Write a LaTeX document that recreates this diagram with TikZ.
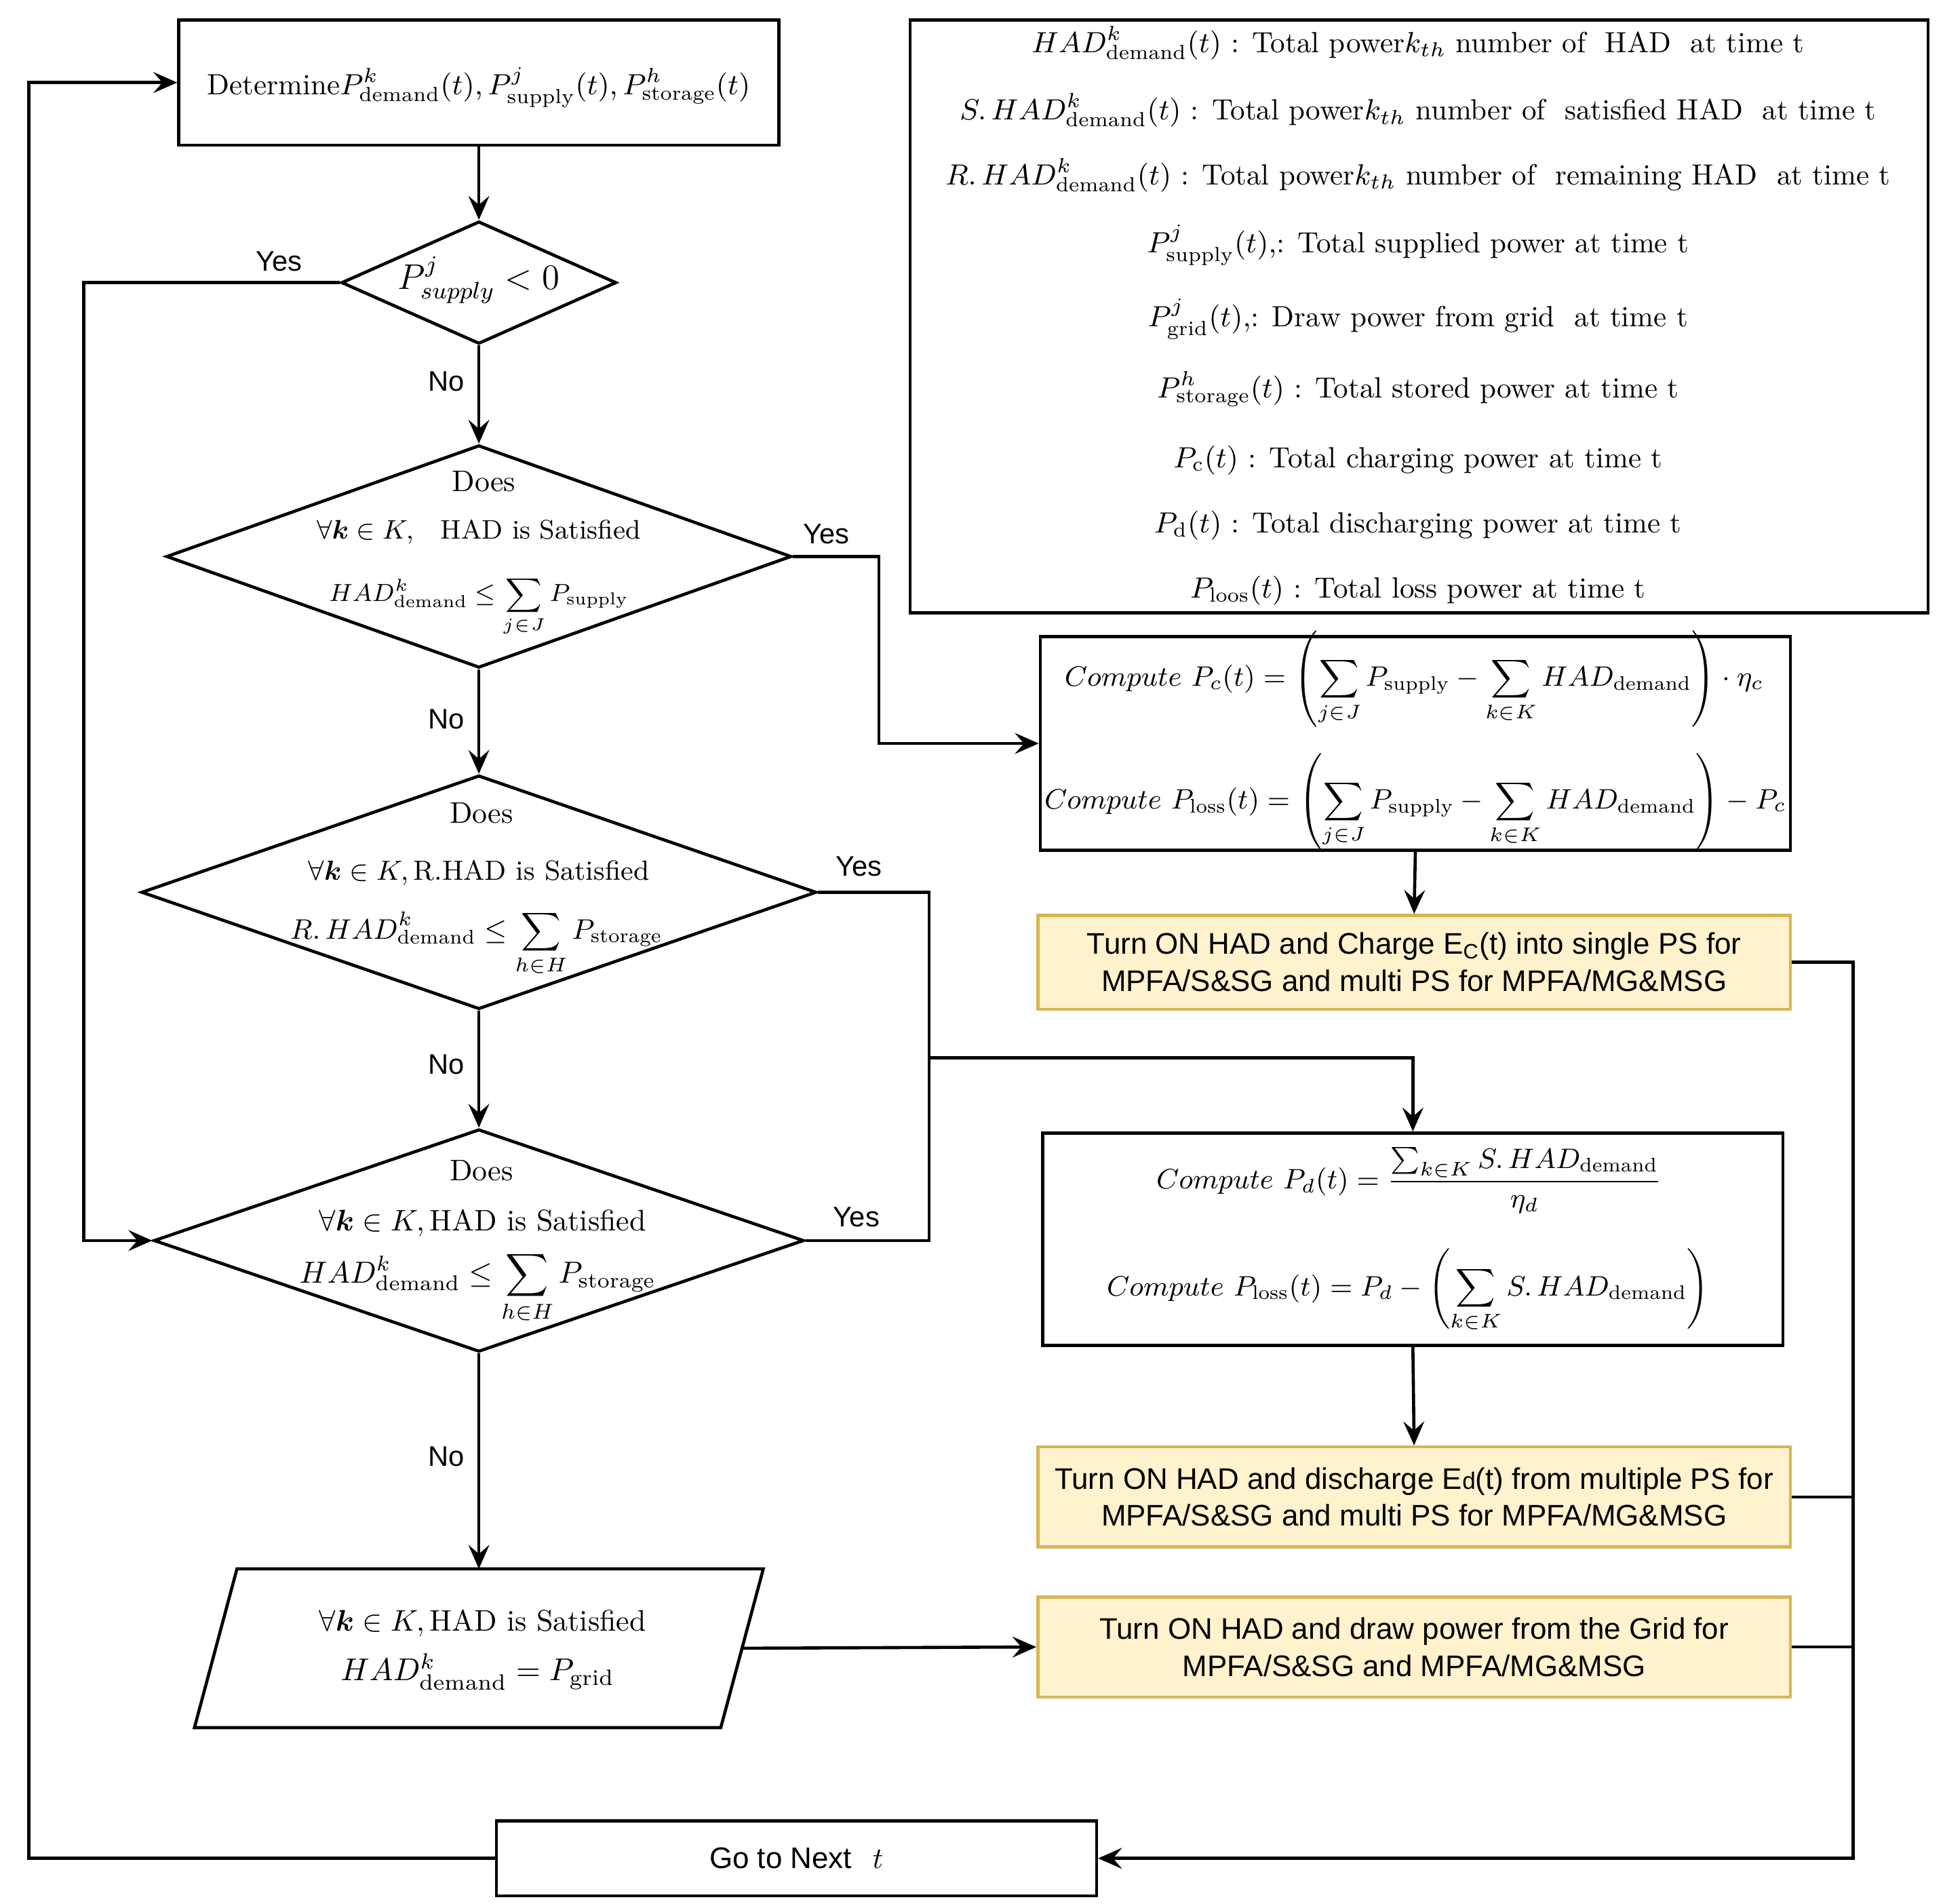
\RequirePackage{fix-cm}
\documentclass[tikz,border=0pt]{standalone}
\usepackage{amsmath}
\usepackage{fontspec}
\newfontfamily\drawiosans{Liberation Sans}
\usetikzlibrary{arrows.meta,shapes.geometric}
\definecolor{noteFill}{HTML}{FFF2CC}
\definecolor{noteLine}{HTML}{D6B656}

\begin{document}
\begin{tikzpicture}[x=0.42pt,y=0.42pt,yscale=-1,line width=1.05pt,
  flow/.style={-{Stealth[length=8pt,width=7pt,inset=3pt]}},
  procbox/.style={draw,rectangle,inner sep=0pt},
  notebox/.style={draw=noteLine,fill=noteFill,rectangle,inner sep=0pt,align=center,font=\drawiosans\fontsize{10}{12.5}\selectfont},
  decision/.style={draw,diamond,inner sep=0pt},
  yesno/.style={font=\drawiosans\fontsize{9.5}{11}\selectfont},
  formula/.style={font=\fontsize{9.45}{12}\selectfont}]
\useasboundingbox (0,0) rectangle (1554,1522);

%Shape: Rectangle
\node[procbox,minimum width=201.6pt,minimum height=42pt] (det) at (383,66) {};
% Text Node
\node[font=\fontsize{9.8}{12}\selectfont] (dettxt) at (383,70) {Determine$P^{k}_{\mathrm{demand}}(t),P^{j}_{\mathrm{supply}}(t),P^{h}_{\mathrm{storage}}(t)$};

%Shape: Diamond
\node[decision,minimum width=92.4pt,minimum height=41.16pt] (dec1) at (383,226) {};
% Text Node
\node (dec1txt) at (383,224) {\large $P^{j}_{supply}<0$};

%Shape: Diamond
\node[decision,minimum width=210pt,minimum height=74.76pt] (dec2) at (383,445) {};
% Text Node
\node[anchor=base] (dec2does) at (387,393) {Does};
% Text Node
\node[anchor=base,font=\fontsize{9}{11}\selectfont] (dec2all) at (383,431) {$\forall\boldsymbol{k}\in K,$\quad HAD is Satisfied};
% Text Node
\node[anchor=base,font=\fontsize{8.3}{10}\selectfont] (dec2sum) at (383,481) {$\displaystyle HAD^{k}_{\mathrm{demand}}\le\sum_{j\in J}P_{\mathrm{supply}}$};

%Shape: Diamond
\node[decision,minimum width=226.8pt,minimum height=78.54pt] (dec3) at (383,713.5) {};
% Text Node
\node[anchor=base] (dec3does) at (385,658) {Does};
% Text Node
\node[anchor=base,font=\fontsize{9.3}{11}\selectfont] (dec3all) at (383,704) {$\forall\boldsymbol{k}\in K,$\,R.HAD is Satisfied};
% Text Node
\node[anchor=base,font=\fontsize{9.5}{11}\selectfont] (dec3sum) at (381,751) {$\displaystyle R.\,HAD^{k}_{\mathrm{demand}}\le\sum_{h\in H}P_{\mathrm{storage}}$};

%Shape: Diamond
\node[decision,minimum width=218.4pt,minimum height=74.76pt] (dec4) at (383,992) {};
% Text Node
\node[anchor=base] (dec4does) at (385,944) {Does};
% Text Node
\node[anchor=base] (dec4all) at (386,984) {$\forall\boldsymbol{k}\in K,$\,HAD is Satisfied};
% Text Node
\node[anchor=base,font=\fontsize{10.25}{12.5}\selectfont] (dec4sum) at (382,1026) {$\displaystyle HAD^{k}_{\mathrm{demand}}\le\sum_{h\in H}P_{\mathrm{storage}}$};

%Shape: Parallelogram
\node[inner sep=0pt,outer sep=0pt,minimum width=176.8pt,minimum height=53.34pt] (gridnode) at (383,1318) {};
\draw ([xshift=7.14pt]gridnode.north west) -- ([xshift=7.14pt]gridnode.north east) -- ([xshift=-7.14pt]gridnode.south east) -- ([xshift=-7.14pt]gridnode.south west) -- cycle;
% Text Node
\node[anchor=base] (gridall) at (386,1304) {$\forall\boldsymbol{k}\in K,$\,HAD is Satisfied};
% Text Node
\node[anchor=base,font=\fontsize{10.6}{13}\selectfont] (gridsum) at (382,1344) {$HAD^{k}_{\mathrm{demand}}=P_{\mathrm{grid}}$};

%Shape: Rectangle
\node[procbox,minimum width=201.6pt,minimum height=25.2pt,font=\drawiosans] (next) at (637,1486) {Go to Next\hspace{7pt}$t$};

%Shape: Rectangle
\node[procbox,minimum width=341.9pt,minimum height=199.1pt] (legend) at (1135,253) {};
% Text Node
\node[anchor=base,font=\fontsize{9.8}{12}\selectfont] (leg1) at (1134,42) {$HAD^{k}_{\mathrm{demand}}(t)$ : Total power$k_{th}$ number of\ \ HAD\ \ at time t};
% Text Node
\node[anchor=base,font=\fontsize{9.8}{12}\selectfont] (leg2) at (1134,96) {$S.\,HAD^{k}_{\mathrm{demand}}(t)$ : Total power$k_{th}$ number of\ \ satisfied HAD\ \ at time t};
% Text Node
\node[anchor=base,font=\fontsize{9.8}{12}\selectfont] (leg3) at (1134,148) {$R.\,HAD^{k}_{\mathrm{demand}}(t)$ : Total power$k_{th}$ number of\ \ remaining HAD\ \ at time t};
% Text Node
\node[anchor=base,font=\fontsize{9.8}{12}\selectfont] (leg4) at (1134,202) {$P^{j}_{\mathrm{supply}}(t),$: Total supplied power at time t};
% Text Node
\node[anchor=base,font=\fontsize{9.8}{12}\selectfont] (leg5) at (1134,261) {$P^{j}_{\mathrm{grid}}(t),$: Draw power from grid\ \ at time t};
% Text Node
\node[anchor=base,font=\fontsize{9.8}{12}\selectfont] (leg6) at (1134,318) {$P^{h}_{\mathrm{storage}}(t)$ : Total stored power at time t};
% Text Node
\node[anchor=base,font=\fontsize{9.8}{12}\selectfont] (leg7) at (1134,374) {$P_{\mathrm{c}}(t)$ : Total charging power at time t};
% Text Node
\node[anchor=base,font=\fontsize{9.8}{12}\selectfont] (leg8) at (1134,426) {$P_{\mathrm{d}}(t)$ : Total discharging power at time t};
% Text Node
\node[anchor=base,font=\fontsize{9.8}{12}\selectfont] (leg9) at (1134,478) {$P_{\mathrm{loos}}(t)$ : Total loss power at time t};

%Shape: Rectangle
\node[procbox,minimum width=252pt,minimum height=71.8pt] (comp1) at (1132,594.5) {};
% Text Node
\node[formula] (comp1a) at (1131,543) {$\displaystyle Compute\ P_c(t)=\left(\sum_{j\in J}P_{\mathrm{supply}}-\sum_{k\in K}HAD_{\mathrm{demand}}\right)\cdot\eta_c$};
% Text Node
\node[formula] (comp1b) at (1132,641) {$\displaystyle Compute\ P_{\mathrm{loss}}(t)=\left(\sum_{j\in J}P_{\mathrm{supply}}-\sum_{k\in K}HAD_{\mathrm{demand}}\right)-P_c$};

%Shape: Rectangle
\node[notebox,minimum width=252.8pt,minimum height=31.5pt] (yel1) at (1131,769.5) {Turn ON HAD and Charge E\textsubscript{C}(t) into single PS for\\MPFA/S\&SG and multi PS for MPFA/MG\&MSG};

%Shape: Rectangle
\node[procbox,minimum width=248.6pt,minimum height=71.4pt] (comp2) at (1130,991) {};
% Text Node
\node[formula] (comp2a) at (1127,944) {$\displaystyle Compute\ P_d(t)=\frac{\sum_{k\in K}S.\,HAD_{\mathrm{demand}}}{\eta_d}$};
% Text Node
\node[formula] (comp2b) at (1126,1032) {$\displaystyle Compute\ P_{\mathrm{loss}}(t)=P_d-\left(\sum_{k\in K}S.\,HAD_{\mathrm{demand}}\right)$};

%Shape: Rectangle
\node[notebox,minimum width=252.8pt,minimum height=33.6pt] (yel2) at (1131,1197) {Turn ON HAD and discharge E{\footnotesize d}(t) from multiple PS for\\MPFA/S\&SG and multi PS for MPFA/MG\&MSG};

%Shape: Rectangle
\node[notebox,minimum width=252.8pt,minimum height=33.6pt] (yel3) at (1131,1317) {Turn ON HAD and draw power from the Grid for\\MPFA/S\&SG and MPFA/MG\&MSG};

% bends of the connectors
\coordinate (busA) at (67,226);
\coordinate (busB) at (703,445);
\coordinate (busC) at (743,846);
\coordinate (busD) at (1482,1486);
\coordinate (busE) at (23,1486);

%Straight Lines
\draw[flow] (det) -- (dec1);
\draw[flow] (dec1) -- (dec2);
\draw[flow] (dec2) -- (dec3);
\draw[flow] (dec3) -- (dec4);
\draw[flow] (dec4) -- (gridnode);
\draw[flow] (dec1.west) -- (busA) |- (dec4.west);
\draw[flow] (dec2.east) -- (busB) |- (comp1.west);
\draw (dec3.east) -| (busC) |- (dec4.east);
\draw[flow] (busC) -| (comp2.north);
\draw[flow] (comp1.south) -- (yel1.north);
\draw[flow] (comp2.south) -- (yel2.north);
\draw[flow] (gridnode.east) -- (yel3.west);
\draw[flow] (yel1.east) -| (busD) -- (next.east);
\draw (yel2.east) -- (yel2.east -| busD);
\draw (yel3.east) -- (yel3.east -| busD);
\draw[flow] (next.west) -- (busE) |- (det.west);

% Text Node
\node[yesno] (yes1) at (223,209) {Yes};
% Text Node
\node[yesno] (no1) at (357,305) {No};
% Text Node
\node[yesno] (yes2) at (661,427) {Yes};
% Text Node
\node[yesno] (no2) at (357,575) {No};
% Text Node
\node[yesno] (yes3) at (687,693) {Yes};
% Text Node
\node[yesno] (no3) at (357,851) {No};
% Text Node
\node[yesno] (yes4) at (685,973) {Yes};
% Text Node
\node[yesno] (no4) at (357,1165) {No};

\end{tikzpicture}
\end{document}
